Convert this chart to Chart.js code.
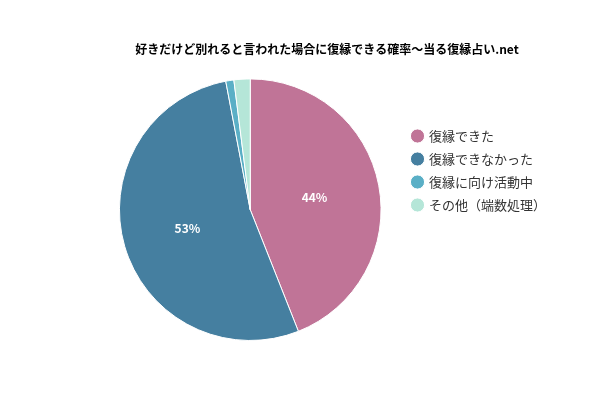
<!DOCTYPE html>
<html><head><meta charset="utf-8">
<script src="https://cdn.jsdelivr.net/npm/chart.js@4"></script>
<style>body{margin:0;background:#fff}#wrap{width:600px;height:400px}</style>
</head><body><div id="wrap"><canvas id="c"></canvas></div>
<script>
const labels = ['復縁できた', '復縁できなかった', '復縁に向け活動中', 'その他（端数処理）'];
const values = [44, 53, 1, 2];
const colors = ['#c07497', '#457fa0', '#5aafc6', '#b5e6d8'];

const pctLabels = {
  id: 'pctLabels',
  afterDatasetsDraw(chart) {
    const ctx = chart.ctx;
    const meta = chart.getDatasetMeta(0);
    ctx.save();
    ctx.fillStyle = '#fff';
    ctx.font = 'bold 12px "Noto Sans CJK JP", sans-serif';
    ctx.textAlign = 'center';
    ctx.textBaseline = 'middle';
    meta.data.forEach((arc, i) => {
      if (values[i] < 5) return;
      const p = arc.tooltipPosition(0.78);
      ctx.fillText(values[i] + '%', p.x, p.y);
    });
    ctx.restore();
  }
};

new Chart(document.getElementById('c'), {
  type: 'pie',
  data: {
    labels: labels,
    datasets: [{ data: values, backgroundColor: colors, borderColor: '#fff', borderWidth: 1 }]
  },
  options: {
    responsive: true,
    maintainAspectRatio: false,
    animation: false,
    layout: { padding: { left: 98, right: 44, bottom: 59, top: 0 } },
    plugins: {
      title: {
        display: true,
        text: '好きだけど別れると言われた場合に復縁できる確率～当る復縁占い.net',
        color: '#000',
        font: { size: 12, weight: 'bold', family: '"Noto Sans CJK JP", sans-serif' },
        padding: { top: 42, bottom: 22 }
      },
      legend: {
        position: 'right',
        labels: {
          usePointStyle: true,
          pointStyle: 'circle',
          boxWidth: 10,
          boxHeight: 10,
          padding: 10,
          color: '#333',
          font: { size: 13, family: '"Noto Sans CJK JP", sans-serif' }
        }
      },
      tooltip: { enabled: false }
    }
  },
  plugins: [pctLabels]
});
</script></body></html>
